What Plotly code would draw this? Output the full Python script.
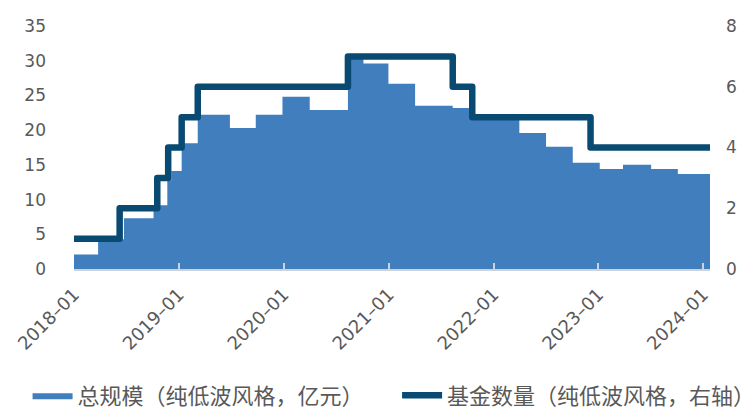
import plotly.graph_objects as go

# 总规模（纯低波风格，亿元）: step start dates and values
scale_dates = ["2018-01-01", "2018-03-26", "2018-06-24", "2018-10-05", "2018-11-22",
               "2018-12-06", "2019-01-11", "2019-03-08", "2019-06-28", "2019-09-26",
               "2019-12-28", "2020-04-01", "2020-08-12", "2020-10-05", "2020-12-31",
               "2021-04-03", "2021-08-12", "2021-10-09", "2022-04-01", "2022-07-03",
               "2022-10-04", "2023-01-06", "2023-03-28", "2023-07-04", "2023-10-05"]
scale_values = [2.1, 4.3, 7.3, 9.2, 12.8,
                14.1, 18.1, 22.2, 20.3, 22.2,
                24.8, 22.9, 30.6, 29.6, 26.7,
                23.5, 23.2, 21.8, 19.6, 17.6,
                15.3, 14.4, 15.0, 14.4, 13.7]

# 基金数量（纯低波风格，右轴）: step start dates and counts
count_dates = ["2018-01-01", "2018-06-09", "2018-10-18", "2018-11-25", "2019-01-11",
               "2019-03-08", "2020-08-12", "2021-08-12", "2021-10-19", "2022-12-05"]
count_values = [1, 2, 3, 4, 5, 6, 7, 6, 5, 4]

end_date = "2024-01-25"

x_tick_vals = ["2018-01-01", "2019-01-01", "2020-01-01", "2021-01-01",
               "2022-01-01", "2023-01-01", "2024-01-01"]
x_tick_text = ["2018–01", "2019–01", "2020–01", "2021–01", "2022–01", "2023–01", "2024–01"]

name_scale = "总规模（纯低波风格，亿元）"
name_count = "基金数量（纯低波风格，右轴）"

BLUE = "#417EBE"
NAVY = "#084A72"
GRAY = "#595959"

fig = go.Figure()
fig.add_trace(go.Scatter(
    x=scale_dates + [end_date], y=scale_values + [scale_values[-1]],
    mode="lines", line=dict(shape="hv", width=0, color=BLUE),
    fill="tozeroy", fillcolor=BLUE, name=name_scale, yaxis="y", legend="legend"))
fig.add_trace(go.Scatter(
    x=count_dates + [end_date], y=count_values + [count_values[-1]],
    mode="lines", line=dict(shape="hv", width=6.5, color=NAVY),
    name=name_count, yaxis="y2", legend="legend2"))

tickfont = dict(family="DejaVu Sans", size=17, color=GRAY)
xtickfont = dict(family="DejaVu Sans", size=18, color=GRAY)
legfont = dict(family="Noto Sans CJK SC", size=22, color=GRAY)
fig.update_layout(
    width=756, height=417,
    margin=dict(l=74, r=46, t=26, b=148, autoexpand=False),
    plot_bgcolor="white", paper_bgcolor="white",
    xaxis=dict(type="date", range=["2018-01-01", end_date],
               tickvals=x_tick_vals, ticktext=x_tick_text, tickangle=-45,
               tickfont=xtickfont, showgrid=False, zeroline=False,
               showline=True, linecolor="#CDD3DC", linewidth=2,
               ticks="inside", ticklen=6, tickwidth=1.5, tickcolor="#CDD3DC",
               ticklabelstandoff=6, automargin=False),
    yaxis=dict(range=[0, 35], dtick=5, tickfont=tickfont, showgrid=False,
               zeroline=False, showline=False, ticklabelstandoff=27, automargin=False),
    yaxis2=dict(range=[0, 8], dtick=2, tickfont=tickfont, showgrid=False,
                zeroline=False, showline=False, overlaying="y", side="right",
                ticklabelstandoff=15, automargin=False),
    legend=dict(orientation="h", x=-0.073, xanchor="left", y=-0.52, yanchor="middle",
                font=legfont, itemwidth=40),
    legend2=dict(orientation="h", x=0.508, xanchor="left", y=-0.52, yanchor="middle",
                 font=legfont, itemwidth=40),
    showlegend=True,
)

post = """
document.body.style.margin='0';
document.querySelectorAll('.scatterlayer .js-line, .legend .js-line').forEach(function(p){
  p.style.strokeLinejoin='round'; p.style.strokeLinecap='round';});
"""
fig.write_html("out.html", post_script=post, config={"displayModeBar": False})
